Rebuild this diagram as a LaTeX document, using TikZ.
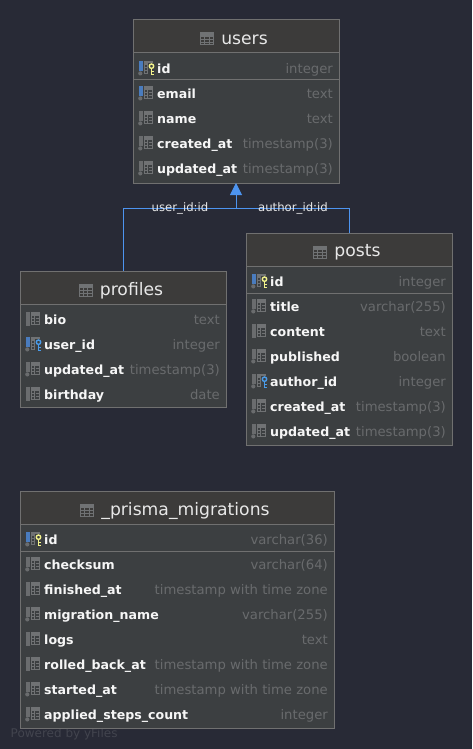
\documentclass[tikz,border=0pt]{standalone}
\usepackage{fontspec}
\setmainfont{DejaVu Sans}
\usetikzlibrary{arrows.meta}
\definecolor{canvas}{HTML}{282A36}
\definecolor{headbg}{HTML}{3C3B3A}
\definecolor{rowbg}{HTML}{3C3F41}
\definecolor{edge}{HTML}{707070}
\definecolor{typec}{HTML}{696B6D}
\definecolor{namec}{HTML}{F6F6F6}
\definecolor{titlec}{HTML}{E8E8E8}
\definecolor{fkline}{HTML}{4D94F0}
\definecolor{barb}{HTML}{4A7CBE}
\definecolor{barg}{HTML}{6A6C6E}
\definecolor{keyy}{HTML}{F4F48C}
\definecolor{keyb}{HTML}{4A9CEA}
\definecolor{gridc}{HTML}{707274}
\tikzset{
  tablebox/.style={draw=edge,line width=1pt,fill=rowbg,inner sep=0pt,outer sep=0pt,anchor=north west},
  titletext/.style={text=titlec,font=\fontsize{17.2}{19}\selectfont,inner sep=0pt},
  nametext/.style={text=namec,font=\bfseries\fontsize{12.6}{16}\selectfont,inner sep=0pt,anchor=base west},
  typetext/.style={text=typec,font=\fontsize{13.2}{16}\selectfont,inner sep=0pt,anchor=base east},
  fklabel/.style={text=titlec,font=\fontsize{11.7}{14}\selectfont,inner sep=0pt},
  fk/.style={draw=fkline,line width=1pt},
  rule/.style={draw=edge,line width=1pt}
}
% #1 node name, #2 x0, #3 y0, #4 x1, #5 y1, #6 title, #7 1 when first row is separated, #8 rows
\newcommand\dbtable[8]{%
  \pgfmathsetmacro\tw{#4-#2}\pgfmathsetmacro\th{#5-#3}%
  \pgfmathsetmacro\tcx{(#2+#4)/2+8.5}%
  \node[tablebox,minimum width=\tw pt,minimum height=\th pt] (#1) at (#2,#3) {};
  \fill[headbg] (#2+.5,#3+.5) rectangle (#4-.5,#3+33);
  \draw[rule] (#2,#3+33) -- (#4,#3+33);
  \ifnum#7=1 \draw[rule] (#2,#3+60) -- (#4,#3+60);\fi
  \node[titletext] (#1-title) at (\tcx,#3+19.5) {#6};
  \begin{scope}[shift={(#1-title.west)}]
    \fill[gridc] (-21,-7) rectangle (-7,6);
    \fill[headbg] (-20,-2.9) rectangle (-8,-.6);
    \fill[headbg] (-20,.6) rectangle (-8,2.4);
    \fill[headbg] (-20,3.6) rectangle (-8,5);
    \foreach \gx in {-16.5,-12}{\fill[gridc] (\gx-.5,-3.5) rectangle (\gx+.5,5);}
  \end{scope}
  \foreach \barc/\dotf/\keyc/\rname/\rtype [count=\ri] in {#8}{%
    \pgfmathsetmacro\ry{#3+48+25*(\ri-1)}%
    \begin{scope}[shift={(#2+5,\ry)}]
      \ifnum\dotf=1
        \fill[\barc] (.5,-7) rectangle (5,3);
        \fill[barg] (2.3,5.4) circle (2.1);
      \else
        \fill[\barc] (.5,-7) rectangle (5,7);
      \fi
      \fill[gridc] (6,-7) rectangle (15,6);
      \fill[rowbg] (9.6,-3.4) rectangle (10.2,5);
      \fill[rowbg] (10.6,-3.4) rectangle (14,-1.2);
      \fill[rowbg] (10.6,-.2) rectangle (14,1.6);
      \fill[rowbg] (10.6,2.6) rectangle (14,4.8);
      \fill[rowbg] (7,-3.4) rectangle (9.2,-1.2);
      \fill[rowbg] (7,-.2) rectangle (9.2,1.6);
      \fill[rowbg] (7,2.6) rectangle (9.2,4.8);
      \if\keyc n\relax\else
        \fill[rowbg] (10,-5) rectangle (16.5,8);
        \if\keyc y\def\kcol{keyy}\else\def\kcol{keyb}\fi
        \draw[\kcol,line width=1.4pt] (13.5,-1.8) circle (2.2);
        \draw[\kcol,line width=1.8pt] (13.5,.4) -- (13.5,7);
        \draw[\kcol,line width=1.2pt] (13.5,3.8) -- (15.8,3.8) (13.5,6.2) -- (15.8,6.2);
      \fi
    \end{scope}
    \node[nametext] (#1-n\ri) at (#2+24,\ry+5.6) {\rname};
    \node[typetext] (#1-t\ri) at (#4-6,\ry+5.6) {\rtype};
  }
}
\begin{document}
\begin{tikzpicture}[x=1pt,y=-1pt]
\useasboundingbox (0,0) rectangle (472,749);
\fill[canvas] (0,0) rectangle (472,749);
\node[text=canvas!88!white,font=\fontsize{12}{14}\selectfont,inner sep=0pt,anchor=base west] (wm) at (10.5,737) {Powered by yFiles};
\dbtable{users}{133}{20}{339}{183}{users}{1}{
  barb/1/y/id/integer,
  barb/1/n/email/text,
  barg/1/n/name/text,
  barg/1/n/created\_at/timestamp(3),
  barg/1/n/updated\_at/timestamp(3)}
\dbtable{profiles}{20}{271}{226}{407}{profiles}{0}{
  barg/0/n/bio/text,
  barb/1/b/user\_id/integer,
  barg/1/n/updated\_at/timestamp(3),
  barg/0/n/birthday/date}
\dbtable{posts}{246}{233}{452}{445}{posts}{1}{
  barb/1/y/id/integer,
  barg/1/n/title/varchar(255),
  barg/0/n/content/text,
  barg/1/n/published/boolean,
  barg/1/b/author\_id/integer,
  barg/1/n/created\_at/timestamp(3),
  barg/1/n/updated\_at/timestamp(3)}
\dbtable{migrations}{20}{491}{334}{728}{\_prisma\_migrations}{1}{
  barb/1/y/id/varchar(36),
  barg/1/n/checksum/varchar(64),
  barg/0/n/finished\_at/timestamp with time zone,
  barg/1/n/migration\_name/varchar(255),
  barg/0/n/logs/text,
  barg/0/n/rolled\_back\_at/timestamp with time zone,
  barg/1/n/started\_at/timestamp with time zone,
  barg/1/n/applied\_steps\_count/integer}
\coordinate (junction) at (236,208);
\draw[fk] (profiles.north) |- (junction);
\draw[fk] (posts.north) |- (junction);
\draw[fk,-{Triangle[width=12pt,length=12pt]}] (junction) -- (users.south);
\node[fklabel] (lab1) at (180,208) {user\_id:id};
\node[fklabel] (lab2) at (293,208) {author\_id:id};
\end{tikzpicture}
\end{document}
